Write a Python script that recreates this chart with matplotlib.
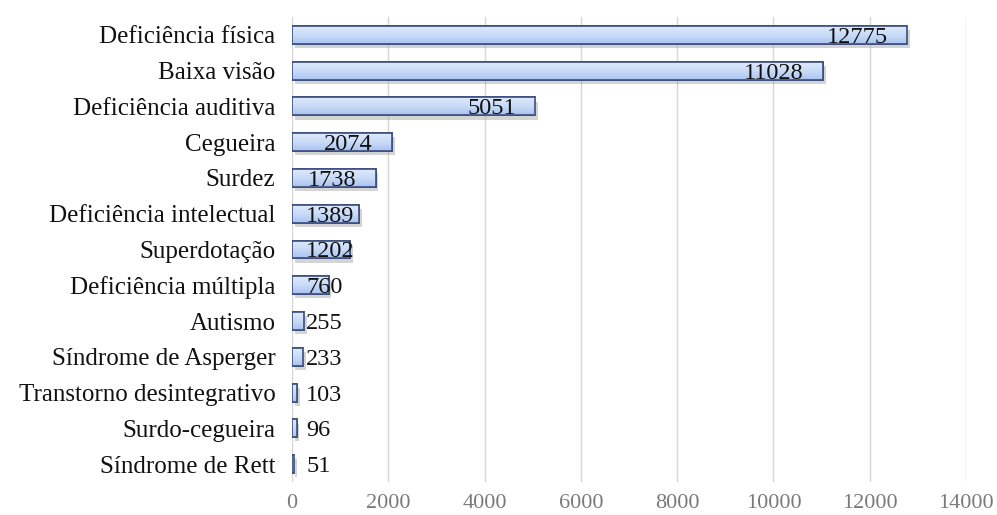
import matplotlib
matplotlib.use("Agg")
import matplotlib.pyplot as plt
import numpy as np
from matplotlib import patheffects as pe
from matplotlib.colors import LinearSegmentedColormap

categories = ["Deficiência física", "Baixa visão", "Deficiência auditiva", "Cegueira",
              "Surdez", "Deficiência intelectual", "Superdotação", "Deficiência múltipla",
              "Autismo", "Síndrome de Asperger", "Transtorno desintegrativo",
              "Surdo-cegueira", "Síndrome de Rett"]
values = [12775, 11028, 5051, 2074, 1738, 1389, 1202, 760, 255, 233, 103, 96, 51]
xticks = [0, 2000, 4000, 6000, 8000, 10000, 12000, 14000]

plt.rcParams['font.family'] = ['Liberation Serif', 'DejaVu Serif']

W, H = 997, 515
fig = plt.figure(figsize=(W / 100, H / 100), dpi=100)
ax = fig.add_axes([292 / W, 1 - 482 / H, (966 - 292) / W, (482 - 17) / H])

y = np.arange(len(categories))
bars = ax.barh(y, values, height=0.5, color="#c5d8f6", edgecolor="#3b4f7d",
               linewidth=1.2, zorder=3)

grad = np.linspace(0, 1, 64).reshape(-1, 1)
cmap = LinearSegmentedColormap.from_list("g", ["#dfe9fb", "#c9dbf8", "#a9c3f0"])
for b in bars:
    b.set_path_effects([pe.SimplePatchShadow(offset=(2, -3), shadow_rgbFace="#a0a0a0", alpha=0.45),
                        pe.Normal()])
    x0, y0 = b.get_x(), b.get_y()
    w, h = b.get_width(), b.get_height()
    im = ax.imshow(grad, cmap=cmap, aspect="auto", extent=(x0, x0 + w, y0 + h, y0),
                   zorder=3.5, interpolation="bilinear")
    im.set_clip_path(b)
    ax.add_patch(plt.Rectangle((x0, y0), w, h, fill=False, edgecolor="#3b4f7d",
                               linewidth=1.2, zorder=4))

ax.set_xlim(0, 14000)
ax.set_ylim(len(categories) - 0.5, -0.5)
ax.set_xticks(xticks)
ax.set_xticklabels([str(t) for t in xticks])
ax.set_yticks(y)
ax.set_yticklabels(categories)
ax.tick_params(axis="y", length=0, pad=12, labelsize=18, labelcolor="#111111")
ax.tick_params(axis="x", length=0, pad=9, labelsize=16, labelcolor="#7a7a7a")
for s in ax.spines.values():
    s.set_visible(False)
ax.grid(axis="x", color="#d6d6d6", linewidth=1, zorder=0)
ax.set_axisbelow(True)

texts = []
for i, v in enumerate(values):
    t = ax.annotate(str(v), xy=(v, i), xytext=(-19, 0), textcoords="offset pixels",
                    ha="right", va="center_baseline", fontsize=17.5, color="#111111", zorder=6)
    texts.append(t)
fig.canvas.draw()
r = fig.canvas.get_renderer()
axx0 = ax.get_window_extent().x0
for i, t in enumerate(texts):
    bb = t.get_window_extent(r)
    if bb.x0 < axx0 + 14:
        t.xy = (0, i)
        t.set_ha("left")
        t.set_position((14, 0))

fig.savefig("out.png", dpi=100, facecolor="white")
